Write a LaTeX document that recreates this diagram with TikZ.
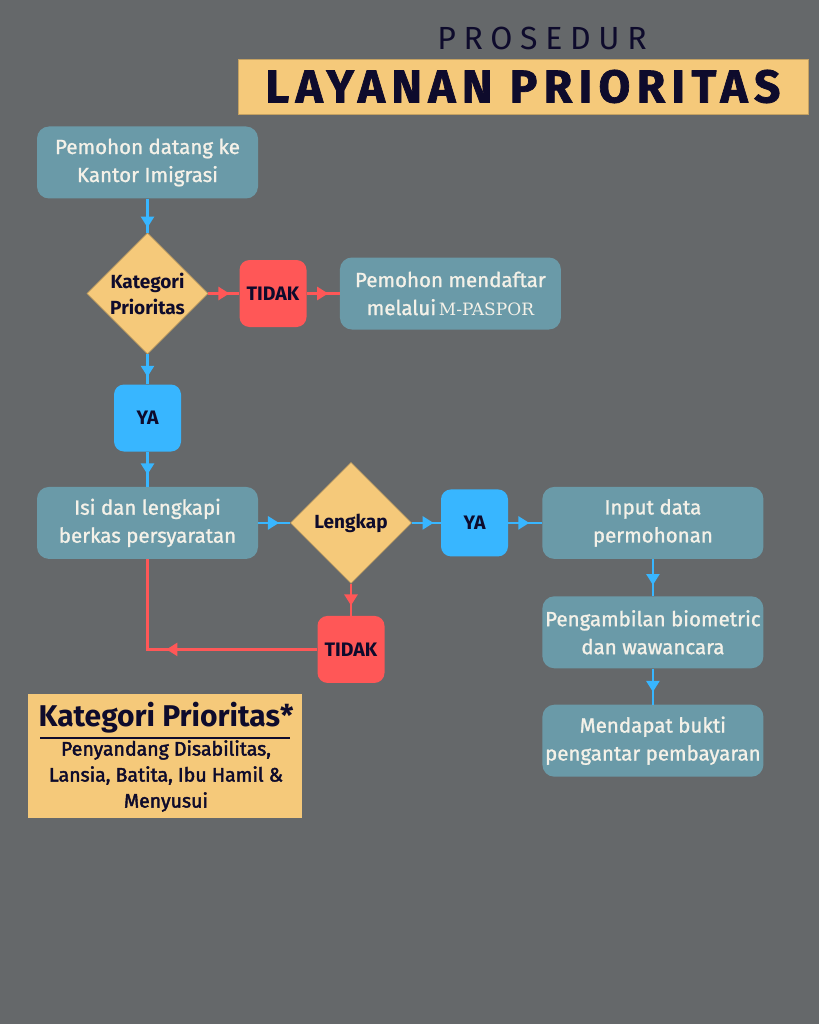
\documentclass[tikz,border=0pt]{standalone}
\usepackage{fontspec}
\setmainfont{Fira Sans}
\newfontfamily\medfont[FakeBold=1.2]{Fira Sans}
\newfontfamily\semifont[FakeBold=2.2]{Fira Sans}
\newfontfamily\pasporfont{DejaVu Serif}
\usetikzlibrary{shapes.geometric, positioning, arrows.meta, decorations.markings}
\definecolor{bgray}{HTML}{65686A}
\definecolor{boxteal}{HTML}{6A9AA8}
\definecolor{gold}{HTML}{F5C97A}
\definecolor{tidakred}{HTML}{FF5757}
\definecolor{yablue}{HTML}{38B6FF}
\definecolor{ink}{HTML}{0E0B2C}
\definecolor{paper}{HTML}{F4F1E8}
\tikzset{
  node distance=30pt,
  process/.style={rectangle, rounded corners=12pt, fill=boxteal, text=paper,
    minimum width=221pt, minimum height=72pt, inner sep=2pt, align=center,
    font=\medfont\fontsize{20.5}{28}\selectfont},
  decision/.style={diamond, fill=gold, draw=gold!80!black, line width=0.6pt,
    aspect=1, inner sep=-8pt, minimum size=121pt, text=ink, align=center,
    font=\bfseries\fontsize{19}{26}\selectfont},
  answer/.style={rectangle, rounded corners=10pt, minimum size=67pt, text=ink,
    font=\bfseries\fontsize{19.5}{22}\selectfont},
  ya/.style={answer, fill=yablue},
  tidak/.style={answer, fill=tidakred},
  flow/.style={line width=2.5pt},
  midarrow/.style={postaction={decorate}, decoration={markings,
    mark=at position #1 with {\arrow{Triangle[width=13pt,length=11pt]}}}},
}

\begin{document}
\begin{tikzpicture}[x=1pt, y=-1pt]
  \fill[bgray] (0,0) rectangle (819,1024);
  \useasboundingbox (0,0) rectangle (819,1024);

  % title
  \node[text=ink, font=\fontsize{32}{32}\selectfont\addfontfeatures{LetterSpace=24}]
    (prosedur) at (542,38) {PROSEDUR};
  \node[fill=gold, draw=gold!80!black, minimum width=570pt, minimum height=55pt,
    inner sep=0pt, text=ink,
    font=\bfseries\fontsize{46}{46}\selectfont\addfontfeatures{LetterSpace=14,FakeBold=1.5}]
    (band) at (523,86.5) {LAYANAN PRIORITAS};

  % flow
  \node[process] (start) at (147.5,162.5) {Pemohon datang ke\\Kantor Imigrasi};
  \node[decision, below=34pt of start] (kat) {Kategori\\Prioritas};
  \node[tidak, right=31pt of kat] (tidak1) {TIDAK};
  \node[process, right=33pt of tidak1] (paspor)
    {Pemohon mendaftar\\melalui{\pasporfont\fontsize{17}{28}\selectfont\,M-PASPOR}};
  \node[ya, below=30pt of kat] (ya1) {YA};
  \node[process, below=35pt of ya1] (isi) {Isi dan lengkapi\\berkas persyaratan};
  \node[decision, right=32pt of isi] (lengkap) {Lengkap};
  \node[ya, right=29pt of lengkap] (ya2) {YA};
  \node[process, right=34pt of ya2] (input) {Input data\\permohonan};
  \node[process, below=37pt of input] (bio) {Pengambilan biometric\\dan wawancara};
  \node[process, below=36pt of bio] (bukti) {Mendapat bukti\\pengantar pembayaran};
  \node[tidak, below=32pt of lengkap] (tidak2) {TIDAK};

  \draw[flow, yablue, midarrow=0.85] (start) -- (kat);
  \draw[flow, yablue, midarrow=0.75] (kat) -- (ya1);
  \draw[flow, yablue, midarrow=0.65] (ya1) -- (isi);
  \draw[flow, yablue, midarrow=0.65] (isi) -- (lengkap);
  \draw[flow, yablue, midarrow=0.75] (lengkap) -- (ya2);
  \draw[flow, yablue, midarrow=0.62] (ya2) -- (input);
  \draw[flow, yablue, midarrow=0.7] (input) -- (bio);
  \draw[flow, yablue, midarrow=0.65] (bio) -- (bukti);
  \draw[flow, tidakred, midarrow=0.68] (kat) -- (tidak1);
  \draw[flow, tidakred, midarrow=0.65] (tidak1) -- (paspor);
  \draw[flow, tidakred, midarrow=0.68] (lengkap) -- (tidak2);
  \draw[flow, tidakred, midarrow=0.58] (tidak2.west) -| (isi.south);

  % legend
  \node[fill=gold, minimum width=274pt, minimum height=124pt, inner sep=0pt]
    (legend) at (165,756) {};
  \node[text=ink, font=\bfseries\fontsize{30}{30}\selectfont] (legtitle) at (166,718)
    {Kategori Prioritas*};
  \draw[ink, line width=1.2pt] (40,738) -- (290,738);
  \node[text=ink, align=center, font=\semifont\fontsize{19.5}{26}\selectfont] (legtext) at (166,776)
    {Penyandang Disabilitas,\\Lansia, Batita, Ibu Hamil \&\\Menyusui};
\end{tikzpicture}
\end{document}
